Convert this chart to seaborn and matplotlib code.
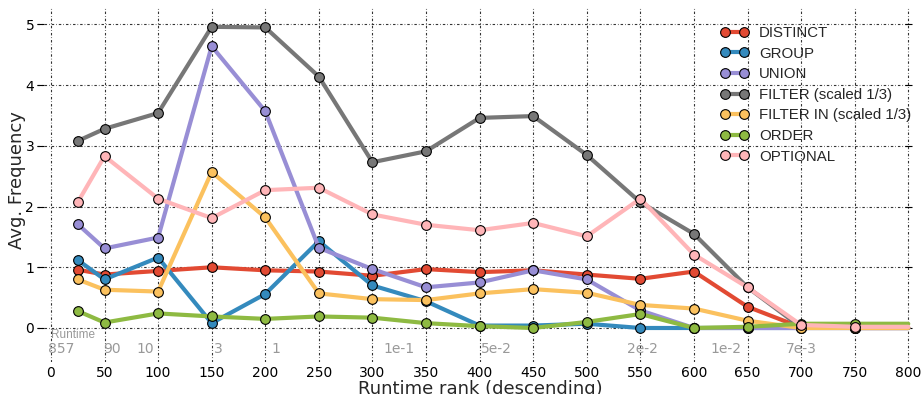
import matplotlib
matplotlib.use("Agg")
import matplotlib.pyplot as plt
import seaborn as sns
import pandas as pd

# Runtime rank buckets (descending) and average keyword frequency per bucket
rank = [25, 50, 100, 150, 200, 250, 300, 350, 400, 450, 500, 550, 600, 650, 700, 750, 800]
distinct = [0.96, 0.88, 0.94, 1.00, 0.95, 0.93, 0.86, 0.97, 0.92, 0.95, 0.88, 0.81, 0.93, 0.35, 0.01, 0.0, 0.0]
group = [1.12, 0.80, 1.16, 0.08, 0.56, 1.43, 0.70, 0.44, 0.04, 0.04, 0.07, 0.0, 0.0, 0.0, 0.0, 0.0, 0.0]
union = [1.71, 1.31, 1.49, 4.64, 3.57, 1.32, 0.97, 0.67, 0.75, 0.95, 0.80, 0.29, 0.0, 0.0, 0.0, 0.0, 0.0]
filter_scaled = [3.08, 3.28, 3.54, 4.96, 4.95, 4.14, 2.73, 2.91, 3.46, 3.49, 2.85, 2.07, 1.55, 0.67, 0.01, 0.0, 0.0]
filter_in_scaled = [0.80, 0.63, 0.60, 2.57, 1.82, 0.57, 0.475, 0.46, 0.57, 0.64, 0.58, 0.38, 0.32, 0.12, 0.0, 0.0, 0.0]
order = [0.28, 0.09, 0.24, 0.19, 0.15, 0.19, 0.17, 0.08, 0.03, 0.0, 0.10, 0.23, 0.0, 0.02, 0.07, 0.07, 0.07]
optional = [2.07, 2.83, 2.13, 1.81, 2.27, 2.31, 1.87, 1.70, 1.61, 1.73, 1.51, 2.13, 1.21, 0.67, 0.05, 0.02, 0.02]

series_names = ["DISTINCT", "GROUP", "UNION", "FILTER (scaled 1/3)",
                "FILTER IN (scaled 1/3)", "ORDER", "OPTIONAL"]
series_values = [distinct, group, union, filter_scaled, filter_in_scaled, order, optional]
colors = ["#E24A33", "#348ABD", "#988ED5", "#777777", "#FBC15E", "#8EBA42", "#FFB5B8"]

# Runtime values (seconds) annotated under the rank axis
runtime_rank = [10, 57, 88, 156, 210, 325, 416, 552, 630, 700]
runtime_labels = ["857", "90", "10", "3", "1", "1e-1", "5e-2", "2e-2", "1e-2", "7e-3"]

x_ticks = list(range(0, 801, 50))
y_ticks = [0, 1, 2, 3, 4, 5]

sns.set_style("white")
plt.rcParams["font.family"] = ["DejaVu Sans"]

fig = plt.figure(figsize=(9.23, 3.94), dpi=100)
ax = fig.add_axes([37 / 923, 32 / 394, 875 / 923, 354 / 394])

n_marked = len(rank) - 1
for name, vals, col in zip(series_names, series_values, colors):
    df = pd.DataFrame({"rank": rank, "freq": vals})
    sns.lineplot(data=df, x="rank", y="freq", ax=ax, color=col, lw=3,
                 marker="o", markersize=7, markeredgecolor="black",
                 markeredgewidth=0.8, markerfacecolor=col,
                 markevery=slice(0, n_marked), label=name)

ax.set_xlim(-13, 803.5)
ax.set_ylim(-0.56, 5.27)
ax.set_xticks(x_ticks)
ax.set_yticks(y_ticks)

grid_ls = (0, (2.2, 1.8, 0.6, 1.8))
ax.grid(True, color="black", lw=0.8, linestyle=grid_ls, alpha=0.8)
for sp in ax.spines.values():
    sp.set_visible(False)

ax.tick_params(axis="x", length=0, pad=3, labelsize=10, colors="black")
ax.tick_params(axis="y", direction="in", length=5, width=0.8, pad=2,
               labelsize=10, colors="black", left=True, right=True)

ax.set_xlabel("Runtime rank (descending)", fontsize=13)
ax.set_ylabel("Avg. Frequency", fontsize=13)
ax.xaxis.set_label_coords(0.507, -0.05)
ax.yaxis.set_label_coords(-0.012, 0.514)

ax.text(0, -0.115, "Runtime", color="#999999", fontsize=8.5,
        family=["Liberation Sans"], ha="left", va="center")
for xr, lab in zip(runtime_rank, runtime_labels):
    ax.text(xr, -0.35, lab, color="#999999", fontsize=10, ha="center", va="center")

leg = ax.legend(loc="upper right", bbox_to_anchor=(1.006, 0.966), frameon=False,
                numpoints=2, handlelength=1.85, handletextpad=0.7,
                labelspacing=0.44, borderaxespad=0.0,
                prop={"family": "Liberation Sans", "size": 10.8})

fig.savefig("out.png", dpi=100)
